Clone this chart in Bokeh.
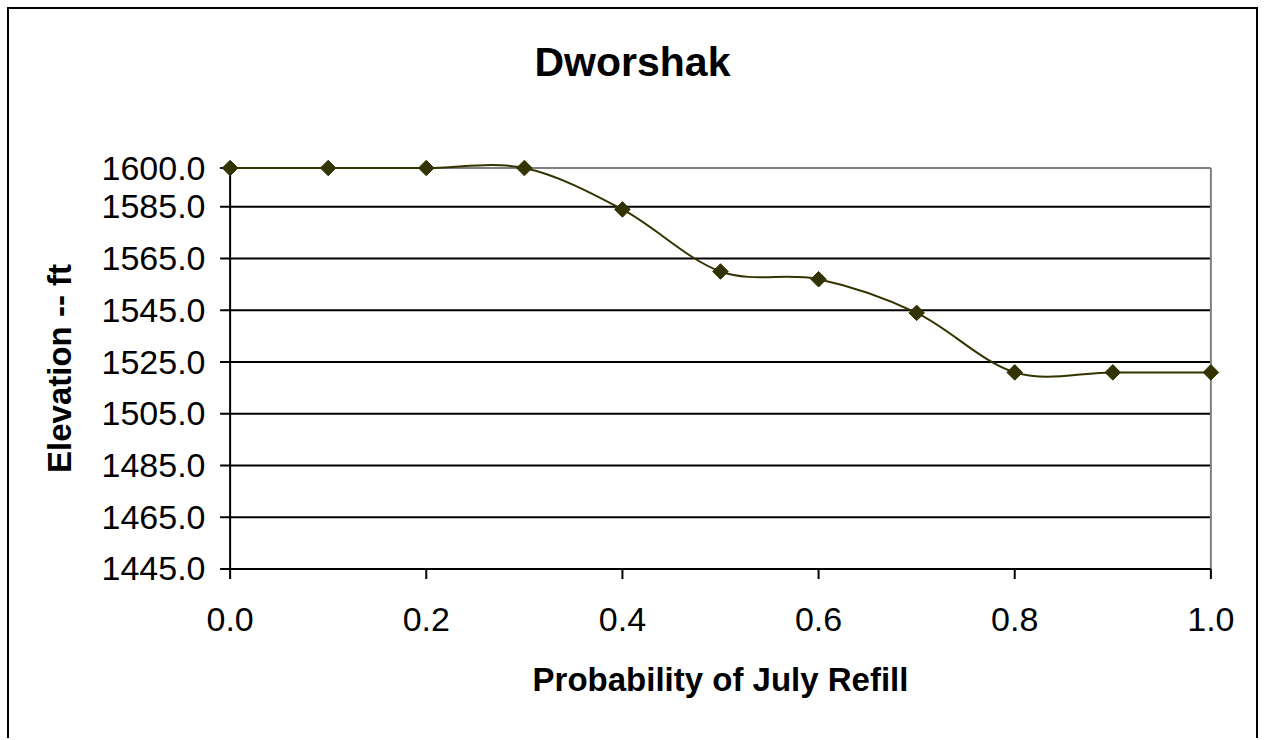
import math
from bokeh.plotting import figure
from bokeh.models import Range1d, FixedTicker, NumeralTickFormatter
from bokeh.embed import file_html
from bokeh.resources import INLINE

# ---- data ----
prob = [0.0, 0.1, 0.2, 0.3, 0.4, 0.5, 0.6, 0.7, 0.8, 0.9, 1.0]
elev = [1600.0, 1600.0, 1600.0, 1600.0, 1584.0, 1560.0, 1557.0, 1544.0, 1521.0, 1521.0, 1521.0]
y_ticks = [1445, 1465, 1485, 1505, 1525, 1545, 1565, 1585, 1600]
x_ticks = [0.0, 0.2, 0.4, 0.6, 0.8, 1.0]
grid_levels = [1465, 1485, 1505, 1525, 1545, 1565, 1585]
title_text = "Dworshak"
x_label = "Probability of July Refill"
y_label = "Elevation -- ft"
x_min, x_max = 0.0, 1.0
y_min, y_max = 1445.0, 1600.0

FONT = "Liberation Sans"
LINE_COL = "#333300"

X_PAD = 0.02     # data units of white space around the plot area (so edge markers are not cut)
Y_PAD = 6.0
FRAME_W, FRAME_H = 1020, 432
BORDER_L, BORDER_T = 201, 143

p = figure(width=1251, height=731, output_backend="svg", toolbar_location=None,
           x_range=Range1d(x_min - X_PAD, x_max + X_PAD),
           y_range=Range1d(y_min - Y_PAD, y_max + Y_PAD),
           min_border_left=BORDER_L, min_border_right=30,
           min_border_top=BORDER_T, min_border_bottom=156)
p.styles = {"margin-left": "7px", "margin-top": "7px",
            "border-top": "2px solid black", "border-left": "2px solid black",
            "border-right": "2px solid black"}
p.outline_line_color = None
p.background_fill_color = "white"
p.border_fill_color = "white"

# pixel sizes converted to data units
px_x = (x_max - x_min + 2 * X_PAD) / FRAME_W
px_y = (y_max - y_min + 2 * Y_PAD) / FRAME_H
TICK = 10

# title (an empty second line lifts it well above the plot area)
p.title.text = title_text + "\n "
p.title.align = "left"
p.title.text_font = FONT
p.title.text_font_size = "41px"
p.title.text_font_style = "bold"
p.title.text_color = "black"
p.title.offset = 324
p.title.standoff = 44

# axes
for ax in (p.xaxis[0], p.yaxis[0]):
    ax.axis_line_color = None
    ax.major_tick_line_color = None
    ax.major_tick_out = 0
    ax.major_tick_in = 0
    ax.minor_tick_line_color = None
    ax.minor_tick_out = 0
    ax.major_label_text_font = FONT
    ax.major_label_text_font_size = "34px"
    ax.major_label_text_color = "black"
    ax.axis_label_text_font = FONT
    ax.axis_label_text_font_size = "33px"
    ax.axis_label_text_font_style = "bold"
    ax.axis_label_text_color = "black"

p.xaxis.ticker = FixedTicker(ticks=x_ticks)
p.yaxis.ticker = FixedTicker(ticks=y_ticks)
p.xaxis.formatter = NumeralTickFormatter(format="0.0")
p.yaxis.formatter = NumeralTickFormatter(format="0.0")
p.xaxis.axis_label = x_label
p.yaxis.axis_label = y_label
p.yaxis.major_label_standoff = 5
p.xaxis.major_label_standoff = 23
p.xaxis.axis_label_standoff = 27
p.yaxis.axis_label_standoff = 21

p.xgrid.grid_line_color = None
p.ygrid.grid_line_color = None

# horizontal grid lines across the plot area only
p.segment(x0=[x_min] * len(grid_levels), y0=grid_levels,
          x1=[x_max] * len(grid_levels), y1=grid_levels,
          line_color="black", line_width=2)

# plot-area border: gray top/right, black left/bottom axis lines
p.segment(x0=[x_min, x_max], y0=[y_max, y_min], x1=[x_max, x_max], y1=[y_max, y_max],
          line_color="#808080", line_width=2)
p.segment(x0=[x_min, x_min], y0=[y_min, y_min], x1=[x_min, x_max], y1=[y_max, y_min],
          line_color="black", line_width=2)

# outside tick marks
p.segment(x0=[x_min - TICK * px_x] * len(y_ticks), y0=y_ticks,
          x1=[x_min] * len(y_ticks), y1=y_ticks, line_color="black", line_width=2)
p.segment(x0=x_ticks, y0=[y_min] * len(x_ticks),
          x1=x_ticks, y1=[y_min - TICK * px_y] * len(x_ticks), line_color="black", line_width=2)

# smoothed line (cubic Bezier segments, Catmull-Rom control points)
n = len(prob)
bx0, by0, bx1, by1, cx0, cy0, cx1, cy1 = [], [], [], [], [], [], [], []
for i in range(n - 1):
    a = max(i - 1, 0)
    d = min(i + 2, n - 1)
    bx0.append(prob[i]); by0.append(elev[i])
    bx1.append(prob[i + 1]); by1.append(elev[i + 1])
    cx0.append(prob[i] + (prob[i + 1] - prob[a]) / 6.0)
    cy0.append(elev[i] + (elev[i + 1] - elev[a]) / 6.0)
    cx1.append(prob[i + 1] - (prob[d] - prob[i]) / 6.0)
    cy1.append(elev[i + 1] - (elev[d] - elev[i]) / 6.0)
p.bezier(x0=bx0, y0=by0, x1=bx1, y1=by1, cx0=cx0, cy0=cy0, cx1=cx1, cy1=cy1,
         line_color=LINE_COL, line_width=2)

p.scatter(prob, elev, marker="square", angle=math.pi / 4, size=11,
          fill_color=LINE_COL, line_color=LINE_COL)

open("out.html", "w").write(file_html(p, INLINE))
